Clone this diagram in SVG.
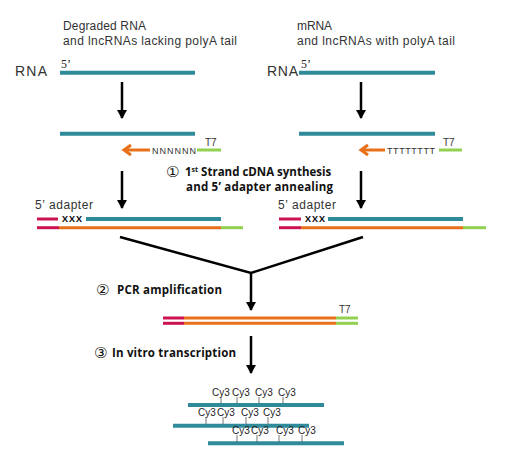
<svg xmlns="http://www.w3.org/2000/svg" width="520" height="459" viewBox="0 0 520 459">
<defs>
<marker id="ah" markerWidth="10" markerHeight="10" refX="8" refY="5" orient="auto" markerUnits="userSpaceOnUse" viewBox="0 0 10 10">
<path d="M0,0 L9,5 L0,10 Z" fill="#000"/>
</marker>
</defs>
<style>
.t{font-family:"Liberation Sans","Open Sans",sans-serif;fill:#333}
.b{font-family:"Open Sans","Liberation Sans",sans-serif;font-weight:bold;fill:#111}
.c{font-family:"DejaVu Sans",sans-serif;fill:#111}
.s{font-family:"Liberation Serif",serif;fill:#222;font-size:12px}
.teal{stroke:#2F8A9A;stroke-width:4;fill:none}
.or{stroke:#E8701A;stroke-width:3;fill:none}
.pk{stroke:#CC1250;stroke-width:3;fill:none}
.gr{stroke:#92D050;stroke-width:3;fill:none}
.blk{stroke:#000;stroke-width:2.5;fill:none}
.cy{font-family:"Liberation Sans",sans-serif;font-size:10px;fill:#222}
.tick{stroke:#555;stroke-width:0.8}
</style>
<rect width="520" height="459" fill="#fff"/>

<g id="left-header">
<text class="t" x="63" y="30" font-size="12" textLength="83">Degraded RNA</text>
<text class="t" x="63" y="45" font-size="12" textLength="174">and lncRNAs lacking polyA tail</text>
<text class="t" x="15" y="76" font-size="14" textLength="32">RNA</text>
<text class="s" x="61" y="68">5’</text>
</g>
<g id="right-header">
<text class="t" x="297" y="30" font-size="12" textLength="35">mRNA</text>
<text class="t" x="297" y="45" font-size="12" textLength="158">and lncRNAs with polyA tail</text>
<text class="t" x="267" y="76" font-size="14" textLength="31">RNA</text>
<text class="s" x="301" y="68">5’</text>
</g>

<g id="left-rna"><line class="teal" x1="60" y1="72.7" x2="195" y2="72.7"/></g>
<g id="right-rna"><line class="teal" x1="299" y1="72.7" x2="435" y2="72.7"/></g>

<g id="left-step1">
<line class="teal" x1="60" y1="133.7" x2="195" y2="133.7"/>
<line class="or" x1="125" y1="150" x2="150" y2="150"/>
<polyline class="or" points="131,145 124,150 131,155"/>
<text class="t" x="152" y="154" font-size="9" textLength="44">NNNNNN</text>
<line class="gr" x1="197" y1="150" x2="221" y2="150" stroke-width="2.5"/>
<text class="t" x="205" y="146" font-size="10">T7</text>
</g>
<g id="right-step1">
<line class="teal" x1="299" y1="133.7" x2="435" y2="133.7"/>
<line class="or" x1="362" y1="150" x2="385" y2="150"/>
<polyline class="or" points="368,145 361,150 368,155"/>
<text class="t" x="387" y="154" font-size="9" textLength="48">TTTTTTTT</text>
<line class="gr" x1="439" y1="150" x2="462" y2="150" stroke-width="2.5"/>
<text class="t" x="443" y="146" font-size="10">T7</text>
</g>

<g id="step1-label">
<text class="c" x="166" y="177" font-size="15">①</text>
<text class="b" x="185" y="176" font-size="11.5">1<tspan font-size="7" dy="-4">st</tspan><tspan dy="4"> Strand cDNA synthesis</tspan></text>
<text class="b" x="186" y="191" font-size="11.5" textLength="147">and 5’ adapter annealing</text>
</g>

<g id="left-adapter">
<text class="t" x="35" y="209" font-size="12" textLength="58">5’ adapter</text>
<line class="pk" x1="37" y1="219" x2="58" y2="219"/>
<text class="b" x="62" y="222" font-size="9" textLength="20">XXX</text>
<line class="teal" x1="86" y1="219" x2="221" y2="219" stroke-width="3.5"/>
<line class="pk" x1="37" y1="227.7" x2="59" y2="227.7"/>
<line class="or" x1="59" y1="227.7" x2="221" y2="227.7"/>
<line class="gr" x1="221" y1="227.7" x2="243" y2="227.7"/>
</g>
<g id="right-adapter">
<text class="t" x="278" y="209" font-size="12" textLength="58">5’ adapter</text>
<line class="pk" x1="279" y1="219" x2="301" y2="219"/>
<text class="b" x="305" y="222" font-size="9" textLength="20">XXX</text>
<line class="teal" x1="328" y1="219" x2="463" y2="219" stroke-width="3.5"/>
<line class="pk" x1="279" y1="227.7" x2="301" y2="227.7"/>
<line class="or" x1="301" y1="227.7" x2="463" y2="227.7"/>
<line class="gr" x1="463" y1="227.7" x2="486" y2="227.7"/>
</g>

<g id="step2-label">
<text class="c" x="96" y="295" font-size="15">②</text>
<text class="b" x="117" y="294" font-size="11.5" textLength="105">PCR amplification</text>
</g>

<g id="pcr-product">
<line class="pk" x1="163" y1="318" x2="184" y2="318"/>
<line class="or" x1="184" y1="318" x2="336" y2="318"/>
<line class="gr" x1="336" y1="318" x2="358" y2="318"/>
<line class="pk" x1="163" y1="323.3" x2="184" y2="323.3"/>
<line class="or" x1="184" y1="323.3" x2="336" y2="323.3"/>
<line class="gr" x1="336" y1="323.3" x2="358" y2="323.3"/>
<text class="t" x="339" y="313" font-size="10">T7</text>
</g>

<g id="step3-label">
<text class="c" x="94" y="358" font-size="15">③</text>
<text class="b" x="112" y="357" font-size="11.5" textLength="124">In vitro transcription</text>
</g>

<g id="crna">
<line class="teal" x1="188" y1="405" x2="324" y2="405" stroke-width="3.5"/>
<line class="teal" x1="173" y1="425.7" x2="309" y2="425.7" stroke-width="3.5"/>
<line class="teal" x1="208" y1="443.3" x2="344" y2="443.3" stroke-width="3.5"/>
<text class="cy" x="212" y="396">Cy3</text><text class="cy" x="232" y="396">Cy3</text><text class="cy" x="255" y="396">Cy3</text><text class="cy" x="278" y="396">Cy3</text>
<line class="tick" x1="221" y1="397" x2="221" y2="403"/><line class="tick" x1="237" y1="397" x2="237" y2="403"/><line class="tick" x1="259" y1="397" x2="259" y2="403"/><line class="tick" x1="283" y1="397" x2="283" y2="403"/>
<text class="cy" x="198" y="416">Cy3</text><text class="cy" x="217" y="416">Cy3</text><text class="cy" x="241" y="416">Cy3</text><text class="cy" x="263" y="416">Cy3</text>
<line class="tick" x1="206" y1="417" x2="206" y2="424"/><line class="tick" x1="223" y1="417" x2="223" y2="424"/><line class="tick" x1="246" y1="417" x2="246" y2="424"/><line class="tick" x1="268" y1="417" x2="268" y2="424"/>
<text class="cy" x="232" y="434">Cy3</text><text class="cy" x="251" y="434">Cy3</text><text class="cy" x="276" y="434">Cy3</text><text class="cy" x="298" y="434">Cy3</text>
<line class="tick" x1="237" y1="435" x2="237" y2="442"/><line class="tick" x1="257" y1="435" x2="257" y2="442"/><line class="tick" x1="279" y1="435" x2="279" y2="442"/><line class="tick" x1="302" y1="435" x2="302" y2="442"/>
</g>

<g id="connectors">
<line class="blk" x1="122" y1="82" x2="122" y2="118" marker-end="url(#ah)"/>
<line class="blk" x1="361" y1="82" x2="361" y2="118" marker-end="url(#ah)"/>
<line class="blk" x1="122" y1="171" x2="122" y2="208" marker-end="url(#ah)"/>
<line class="blk" x1="361" y1="171" x2="361" y2="208" marker-end="url(#ah)"/>
<polyline class="blk" points="120,237 251,273 363,237" stroke-linejoin="miter"/>
<line class="blk" x1="251" y1="272" x2="251" y2="310" marker-end="url(#ah)"/>
<line class="blk" x1="251" y1="336" x2="251" y2="373" marker-end="url(#ah)"/>
</g>
</svg>
